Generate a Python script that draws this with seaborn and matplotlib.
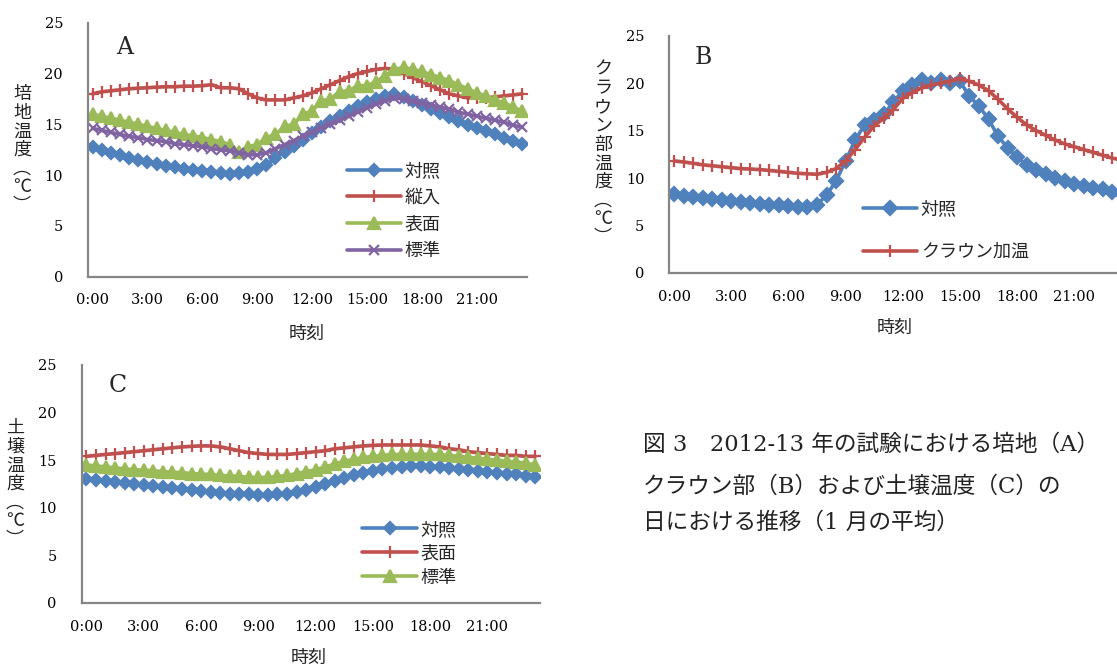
import numpy as np
import seaborn as sns
import matplotlib.pyplot as plt

# half-hour slots over one day (48 points per series)
slots = np.arange(48)
tick_pos = [0, 6, 12, 18, 24, 30, 36, 42]
tick_labels = ['0:00', '3:00', '6:00', '9:00', '12:00', '15:00', '18:00', '21:00']
y_ticks = [0, 5, 10, 15, 20, 25]

# A: 培地温度
a_taisho = [12.8, 12.5, 12.2, 12.0, 11.7, 11.5, 11.3, 11.1, 10.9, 10.8, 10.6, 10.5,
            10.4, 10.3, 10.2, 10.1, 10.2, 10.3, 10.6, 11.0, 11.7, 12.3, 12.9, 13.5,
            14.1, 14.7, 15.3, 15.8, 16.3, 16.8, 17.2, 17.5, 17.8, 18.0, 17.7, 17.3,
            16.9, 16.5, 16.1, 15.7, 15.3, 14.9, 14.6, 14.3, 14.0, 13.7, 13.4, 13.1]
a_juunyu = [18.0, 18.2, 18.3, 18.4, 18.5, 18.55, 18.6, 18.65, 18.7, 18.7, 18.75, 18.75,
            18.8, 18.9, 18.6, 18.6, 18.5, 18.0, 17.6, 17.4, 17.4, 17.4, 17.6, 17.8,
            18.1, 18.5, 18.9, 19.3, 19.7, 20.0, 20.2, 20.4, 20.5, 20.4, 20.0, 19.6,
            19.2, 18.8, 18.4, 18.0, 17.8, 17.6, 17.6, 17.6, 17.7, 17.8, 17.9, 18.0]
a_hyomen = [16.0, 15.8, 15.6, 15.4, 15.2, 15.0, 14.8, 14.6, 14.4, 14.2, 14.0, 13.85,
            13.7, 13.5, 13.3, 13.0, 12.3, 12.8, 13.0, 13.7, 14.0, 14.8, 15.0, 16.0,
            16.3, 17.3, 17.5, 18.2, 18.3, 18.8, 18.8, 19.2, 19.8, 20.4, 20.6, 20.4,
            20.2, 19.9, 19.6, 19.3, 18.9, 18.5, 18.1, 17.8, 17.4, 17.1, 16.7, 16.3]
a_hyojun = [14.6, 14.4, 14.2, 14.0, 13.8, 13.7, 13.5, 13.4, 13.3, 13.1, 13.0, 12.9,
            12.8, 12.6, 12.5, 12.4, 12.2, 12.0, 12.0, 12.2, 12.6, 13.0, 13.4, 13.8,
            14.2, 14.6, 15.0, 15.4, 15.8, 16.2, 16.6, 17.0, 17.3, 17.6, 17.5, 17.3,
            17.1, 16.9, 16.7, 16.5, 16.2, 16.0, 15.8, 15.6, 15.4, 15.2, 14.9, 14.7]

# B: クラウン部温度
b_taisho = [8.3, 8.1, 8.0, 7.9, 7.8, 7.7, 7.6, 7.5, 7.4, 7.3, 7.2, 7.15,
            7.1, 7.0, 7.0, 7.2, 8.2, 9.7, 11.8, 14.0, 15.6, 16.1, 16.7, 18.0,
            19.2, 19.8, 20.3, 20.0, 20.3, 20.0, 20.2, 18.6, 17.6, 16.2, 14.4, 13.2,
            12.2, 11.4, 10.8, 10.4, 10.0, 9.7, 9.4, 9.2, 9.0, 8.8, 8.5, 8.3]
b_crown = [11.8, 11.7, 11.55, 11.4, 11.3, 11.2, 11.1, 11.0, 10.95, 10.9, 10.8, 10.7,
           10.6, 10.5, 10.45, 10.4, 10.6, 11.0, 11.8, 13.0, 14.3, 15.5, 16.3, 17.2,
           18.4, 19.0, 19.5, 19.8, 20.0, 20.2, 20.5, 20.2, 19.8, 19.2, 18.3, 17.3,
           16.4, 15.6, 15.0, 14.5, 14.0, 13.6, 13.3, 13.0, 12.7, 12.4, 12.1, 11.9]

# C: 土壌温度
c_taisho = [13.0, 12.9, 12.8, 12.7, 12.6, 12.5, 12.4, 12.3, 12.2, 12.1, 12.0, 11.9,
            11.8, 11.7, 11.6, 11.5, 11.45, 11.4, 11.35, 11.35, 11.4, 11.5, 11.7, 11.9,
            12.2, 12.5, 12.8, 13.1, 13.4, 13.7, 13.9, 14.1, 14.2, 14.3, 14.35, 14.35,
            14.3, 14.25, 14.2, 14.1, 14.0, 13.9, 13.8, 13.7, 13.6, 13.5, 13.35, 13.2]
c_hyomen = [15.4, 15.5, 15.6, 15.7, 15.8, 15.9, 16.0, 16.1, 16.2, 16.3, 16.4, 16.45,
            16.5, 16.5, 16.4, 16.2, 16.0, 15.8, 15.7, 15.6, 15.6, 15.6, 15.7, 15.8,
            15.9, 16.0, 16.2, 16.3, 16.4, 16.5, 16.55, 16.6, 16.6, 16.6, 16.6, 16.6,
            16.5, 16.4, 16.2, 16.1, 15.9, 15.8, 15.7, 15.6, 15.5, 15.5, 15.4, 15.4]
c_hyojun = [14.5, 14.4, 14.3, 14.2, 14.1, 14.0, 13.95, 13.9, 13.8, 13.75, 13.7, 13.6,
            13.55, 13.5, 13.4, 13.35, 13.3, 13.2, 13.2, 13.2, 13.3, 13.4, 13.6, 13.8,
            14.0, 14.3, 14.6, 14.9, 15.1, 15.3, 15.4, 15.5, 15.6, 15.6, 15.6, 15.65,
            15.6, 15.6, 15.5, 15.4, 15.3, 15.2, 15.1, 15.0, 14.9, 14.8, 14.7, 14.5]

BLUE, RED, GREEN, PURPLE = '#4F81BD', '#C0504D', '#9BBB59', '#8064A2'
GREY = '#868686'
JP = ['Noto Sans CJK JP', 'DejaVu Sans']
NUM = ['DejaVu Serif', 'Noto Sans CJK JP']

sns.set_theme(style='white')
plt.rcParams['font.family'] = NUM

W, H = 1117, 668
fig = plt.figure(figsize=(W / 100, H / 100), dpi=100)


def box(l, t, r, b):
    return [l / W, 1 - b / H, (r - l) / W, (b - t) / H]


def fx(x):
    return x / W


def fy(y):
    return 1 - y / H


def draw(ax, y, color, marker, ms, label):
    sns.lineplot(x=slots, y=y, ax=ax, color=color, marker=marker, markersize=ms,
                 markeredgecolor=color, markerfacecolor=color, markeredgewidth=1.6,
                 linewidth=2.6, label=label)


def style(ax):
    ax.set_xlim(-0.5, 47.5)
    ax.set_ylim(0, 25)
    ax.set_yticks(y_ticks)
    ax.set_xticks(tick_pos)
    ax.set_xticklabels(tick_labels)
    ax.set_xticks(np.arange(-0.5, 48, 2), minor=True)
    ax.tick_params(axis='x', which='major', length=0, pad=12, labelsize=10.5, labelcolor='black')
    ax.tick_params(axis='x', which='minor', direction='in', length=5, width=1.2, color=GREY)
    ax.tick_params(axis='y', direction='in', length=5, width=1.2, color=GREY, pad=18,
                   labelsize=10.5, labelcolor='black')
    for s in ['top', 'right']:
        ax.spines[s].set_visible(False)
    for s in ['left', 'bottom']:
        ax.spines[s].set_color(GREY)
        ax.spines[s].set_linewidth(1.6)
    ax.set_xlabel('')
    ax.set_ylabel('')
    ax.patch.set_alpha(0)


def legend(ax, anchor, spacing):
    ax.legend(loc='upper left', bbox_to_anchor=anchor, frameon=False, borderpad=0,
              handlelength=3.0, handletextpad=0.2, labelspacing=spacing,
              prop={'family': JP, 'size': 13})


ax_a = fig.add_axes(box(88, 22.7, 527, 276.7))
draw(ax_a, a_taisho, BLUE, 'D', 6.5, '対照')
draw(ax_a, a_juunyu, RED, '+', 8, '縦入')
draw(ax_a, a_hyomen, GREEN, '^', 8, '表面')
draw(ax_a, a_hyojun, PURPLE, 'x', 6.5, '標準')
style(ax_a)
legend(ax_a, (0.5695, 0.487), 0.48)

ax_b = fig.add_axes(box(669.3, 35.7, 1126.7, 273))
draw(ax_b, b_taisho, BLUE, 'D', 7.5, '対照')
draw(ax_b, b_crown, RED, '+', 8, 'クラウン加温')
style(ax_b)
legend(ax_b, (0.404, 0.3455), 1.39)

ax_c = fig.add_axes(box(81.7, 365, 540, 603))
draw(ax_c, c_taisho, BLUE, 'D', 6.5, '対照')
draw(ax_c, c_hyomen, RED, '+', 8, '表面')
draw(ax_c, c_hyojun, GREEN, '^', 8, '標準')
style(ax_c)
legend(ax_c, (0.593, 0.3836), 0.33)

# panel letters
for letter, x, y in [('A', 125, 47), ('B', 703, 57), ('C', 118, 386)]:
    fig.text(fx(x), fy(y), letter, ha='center', va='center', fontsize=17, family=NUM)

# vertical y labels
for txt, x, y in [('培地温度︵℃︶', 22, 150), ('クラウン部温度︵℃︶', 603, 154),
                  ('土壌温度︵℃︶', 15, 484)]:
    fig.text(fx(x), fy(y), '\n'.join(txt), ha='center', va='center', fontsize=13,
             family=JP, linespacing=1.05, color='#222222')

# x labels
for x, y in [(307, 334), (895, 328), (309, 658)]:
    fig.text(fx(x), fy(y), '時刻', ha='center', va='center', fontsize=13, family=JP,
             color='#222222')

# caption
caption = ['図 3　2012-13 年の試験における培地（A）',
           'クラウン部（B）および土壌温度（C）の',
           '日における推移（1 月の平均）']
for line, y in zip(caption, [445, 486.7, 523]):
    fig.text(fx(643), fy(y), line, ha='left', va='center', fontsize=16.3, family=NUM,
             color='#222222')

fig.savefig('out.png', dpi=100)
